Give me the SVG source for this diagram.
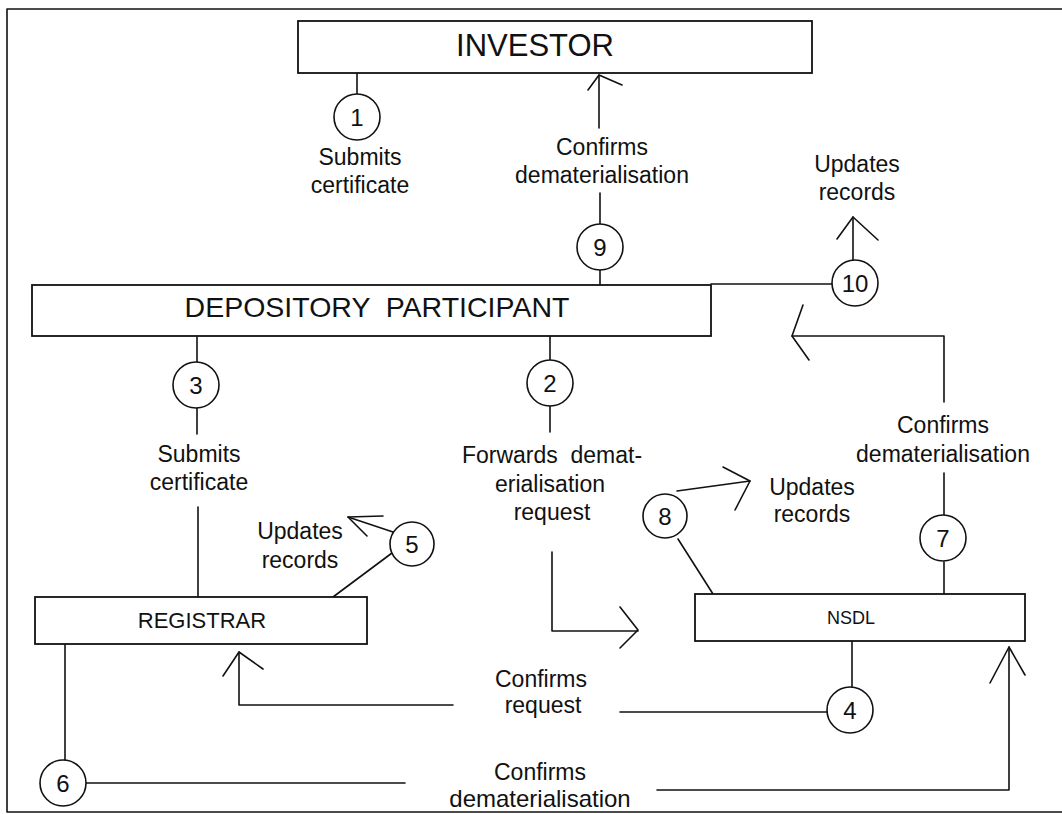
<svg xmlns="http://www.w3.org/2000/svg" width="1062" height="814" viewBox="0 0 1062 814">
<style>
  .ln { fill: none; stroke: #111; stroke-width: 1.6; stroke-linecap: round; stroke-linejoin: round; }
  .box { fill: #fff; stroke: #111; stroke-width: 1.8; }
  .circ { fill: #fff; stroke: #111; stroke-width: 1.6; }
  text { font-family: "Liberation Sans", Arial, Helvetica, sans-serif; fill: #111; text-anchor: middle; }
  .lbl { font-size: 23px; }
  .num { font-size: 24px; }
</style>
<rect x="0" y="0" width="1062" height="814" fill="#fff"/>
<path class="ln" d="M1062 9 H7 V812 H1062"/>

<g id="connectors">
  <!-- 1 -->
  <path class="ln" d="M357 73 V94"/>
  <!-- 9 -->
  <path class="ln" d="M599 128 V75"/>
  <path class="ln" d="M588 90 L599 75 L622 85"/>
  <path class="ln" d="M600 193 V224"/>
  <path class="ln" d="M600 270 V285"/>
  <!-- 10 -->
  <path class="ln" d="M711 284 H832"/>
  <path class="ln" d="M853 260 V217"/>
  <path class="ln" d="M837 239 L853 217 L878 240"/>
  <!-- 3 -->
  <path class="ln" d="M197 337 V362"/>
  <path class="ln" d="M197 408 V434"/>
  <path class="ln" d="M198 507 V597"/>
  <!-- 2 -->
  <path class="ln" d="M550 336 V360"/>
  <path class="ln" d="M550 406 V432"/>
  <path class="ln" d="M552 552 V631 H638"/>
  <path class="ln" d="M620 607 L638 630 L620 648"/>
  <!-- 8 -->
  <path class="ln" d="M677 491 L750 481"/>
  <path class="ln" d="M723 467 L750 481 L735 510"/>
  <path class="ln" d="M678 539 L713 594"/>
  <!-- 7 -->
  <path class="ln" d="M944 562 V594"/>
  <path class="ln" d="M944 515 V473"/>
  <path class="ln" d="M944 402 V336 H792"/>
  <path class="ln" d="M803 305 L792 336 L809 360"/>
  <!-- 5 -->
  <path class="ln" d="M392 553 L333 597"/>
  <path class="ln" d="M393 532 L348 517"/>
  <path class="ln" d="M383 516 L348 517 L367 536"/>
  <!-- 4 -->
  <path class="ln" d="M852 641 V687"/>
  <path class="ln" d="M828 712 H620"/>
  <path class="ln" d="M453 705 H239 V652"/>
  <path class="ln" d="M223 676 L239 652 L263 669"/>
  <!-- 6 -->
  <path class="ln" d="M65 644 V760"/>
  <path class="ln" d="M86 783 H405"/>
  <path class="ln" d="M657 790 H1009 V647"/>
  <path class="ln" d="M990 683 L1009 647 L1025 675"/>
</g>

<g id="investor">
  <rect class="box" x="298" y="21" width="514" height="52"/>
  <text x="535" y="56" style="font-size:31px">INVESTOR</text>
</g>
<g id="depository-participant">
  <rect class="box" x="32" y="285" width="679" height="51"/>
  <text x="377" y="317" style="font-size:28.5px" xml:space="preserve">DEPOSITORY  PARTICIPANT</text>
</g>
<g id="registrar">
  <rect class="box" x="35" y="597" width="332" height="47"/>
  <text x="202" y="628" style="font-size:22px">REGISTRAR</text>
</g>
<g id="nsdl">
  <rect class="box" x="695" y="594" width="330" height="47"/>
  <text x="851" y="624" style="font-size:18px">NSDL</text>
</g>

<g id="step1">
  <circle class="circ" cx="357" cy="117" r="23"/>
  <text class="num" x="357" y="126">1</text>
  <text class="lbl" x="360" y="165">Submits</text>
  <text class="lbl" x="360" y="193">certificate</text>
</g>
<g id="step2">
  <circle class="circ" cx="550" cy="383" r="23"/>
  <text class="num" x="550" y="392">2</text>
  <text class="lbl" x="552" y="463" xml:space="preserve">Forwards  demat-</text>
  <text class="lbl" x="550" y="492">erialisation</text>
  <text class="lbl" x="552" y="520">request</text>
</g>
<g id="step3">
  <circle class="circ" cx="196" cy="385" r="23"/>
  <text class="num" x="196" y="394">3</text>
  <text class="lbl" x="199" y="462">Submits</text>
  <text class="lbl" x="199" y="490">certificate</text>
</g>
<g id="step4">
  <circle class="circ" cx="850" cy="710" r="23"/>
  <text class="num" x="850" y="719">4</text>
  <text class="lbl" x="541" y="687">Confirms</text>
  <text class="lbl" x="543" y="713">request</text>
</g>
<g id="step5">
  <circle class="circ" cx="412" cy="544" r="22"/>
  <text class="num" x="412" y="553">5</text>
  <text class="lbl" x="300" y="539">Updates</text>
  <text class="lbl" x="300" y="568">records</text>
</g>
<g id="step6">
  <circle class="circ" cx="63" cy="783" r="23"/>
  <text class="num" x="63" y="792">6</text>
  <text class="lbl" x="540" y="780">Confirms</text>
  <text class="lbl" x="540" y="807" style="font-size:24px">dematerialisation</text>
</g>
<g id="step7">
  <circle class="circ" cx="943" cy="538" r="23"/>
  <text class="num" x="943" y="547">7</text>
  <text class="lbl" x="943" y="433">Confirms</text>
  <text class="lbl" x="943" y="462">dematerialisation</text>
</g>
<g id="step8">
  <circle class="circ" cx="665" cy="516" r="22"/>
  <text class="num" x="665" y="525">8</text>
  <text class="lbl" x="812" y="495">Updates</text>
  <text class="lbl" x="812" y="522">records</text>
</g>
<g id="step9">
  <circle class="circ" cx="600" cy="247" r="23"/>
  <text class="num" x="600" y="256">9</text>
  <text class="lbl" x="602" y="155">Confirms</text>
  <text class="lbl" x="602" y="183">dematerialisation</text>
</g>
<g id="step10">
  <circle class="circ" cx="855" cy="283" r="23"/>
  <text class="num" x="855" y="292">10</text>
  <text class="lbl" x="857" y="172">Updates</text>
  <text class="lbl" x="857" y="200">records</text>
</g>
</svg>
